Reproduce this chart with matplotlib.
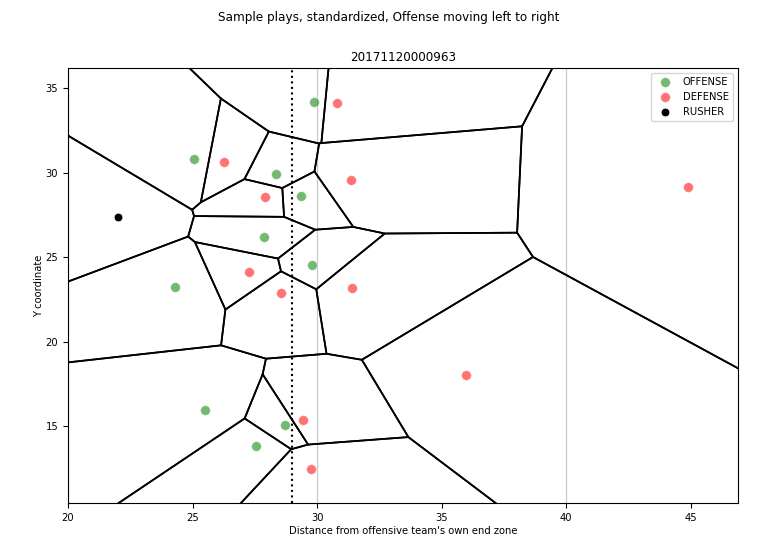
import numpy as np
import matplotlib
matplotlib.use("Agg")
import matplotlib.pyplot as plt

# ---- data ----
play_id = "20171120000963"
line_of_scrimmage = 29.0
yard_lines = [10, 20, 30, 40, 50, 60]

offense_x = [29.87, 25.05, 28.37, 29.35, 27.87, 29.79, 24.29, 25.49, 28.71, 27.55]
offense_y = [34.21, 30.83, 29.94, 28.65, 26.22, 24.54, 23.23, 15.93, 15.04, 13.85]

defense_x = [30.79, 26.27, 31.35, 27.90, 27.26, 28.54, 31.41, 35.98, 29.44, 29.76, 44.90]
defense_y = [34.15, 30.67, 29.60, 28.59, 24.14, 22.88, 23.19, 18.03, 15.36, 12.45, 29.17]

rusher_x = [22.00]
rusher_y = [27.37]

# ---- Voronoi cells by half-plane clipping ----
px = np.array(offense_x + defense_x + rusher_x)
py = np.array(offense_y + defense_y + rusher_y)
pts = np.column_stack([px, py])


def clip(poly, a, b, c):
    out = []
    n = len(poly)
    for i in range(n):
        p = poly[i]
        q = poly[(i + 1) % n]
        fp = a * p[0] + b * p[1] - c
        fq = a * q[0] + b * q[1] - c
        if fp <= 0:
            out.append(p)
        if fp * fq < 0:
            t = fp / (fp - fq)
            out.append((p[0] + t * (q[0] - p[0]), p[1] + t * (q[1] - p[1])))
    return out


BIG = 500.0
cells = []
for i, pi in enumerate(pts):
    poly = [(-BIG, -BIG), (BIG, -BIG), (BIG, BIG), (-BIG, BIG)]
    for j, pj in enumerate(pts):
        if i == j:
            continue
        a, b = 2 * (pj - pi)
        c = pj @ pj - pi @ pi
        poly = clip(poly, a, b, c)
        if not poly:
            break
    cells.append(poly)

# ---- figure ----
fig = plt.figure(figsize=(7.77, 5.6), dpi=100)
ax = fig.add_axes([0.0875, 0.1018, 0.8623, 0.7768])
FS = 7.2
TFS = 8.64

for xl in yard_lines:
    ax.axvline(xl, color="#c8c8c8", lw=0.9, zorder=0)

for poly in cells:
    arr = np.array(poly + [poly[0]])
    ax.plot(arr[:, 0], arr[:, 1], color="black", lw=1.25, zorder=1)

ax.axvline(line_of_scrimmage, color="black", ls=":", lw=1.5, zorder=2)

ax.scatter(offense_x, offense_y, s=50, color="green", alpha=0.55,
           edgecolors="white", linewidths=0.6, label="OFFENSE", zorder=3)
ax.scatter(defense_x, defense_y, s=50, color="red", alpha=0.55,
           edgecolors="white", linewidths=0.6, label="DEFENSE", zorder=3)
ax.scatter(rusher_x, rusher_y, s=40, color="black",
           edgecolors="white", linewidths=0.6, label="RUSHER", zorder=3)

ax.set_xlim(px.min() - 2, px.max() + 2)
ax.set_ylim(py.min() - 2, py.max() + 2)

ax.set_xlabel("Distance from offensive team's own end zone", fontsize=FS, labelpad=2.5)
ax.set_ylabel("Y coordinate", fontsize=FS, labelpad=1)
ax.set_title(play_id, fontsize=TFS, pad=5)
ax.tick_params(labelsize=FS)
fig.suptitle("Sample plays, standardized, Offense moving left to right",
             fontsize=TFS, y=0.98)
ax.legend(loc="upper right", fontsize=FS, markerscale=1.0)

fig.savefig("out.png", dpi=100)
